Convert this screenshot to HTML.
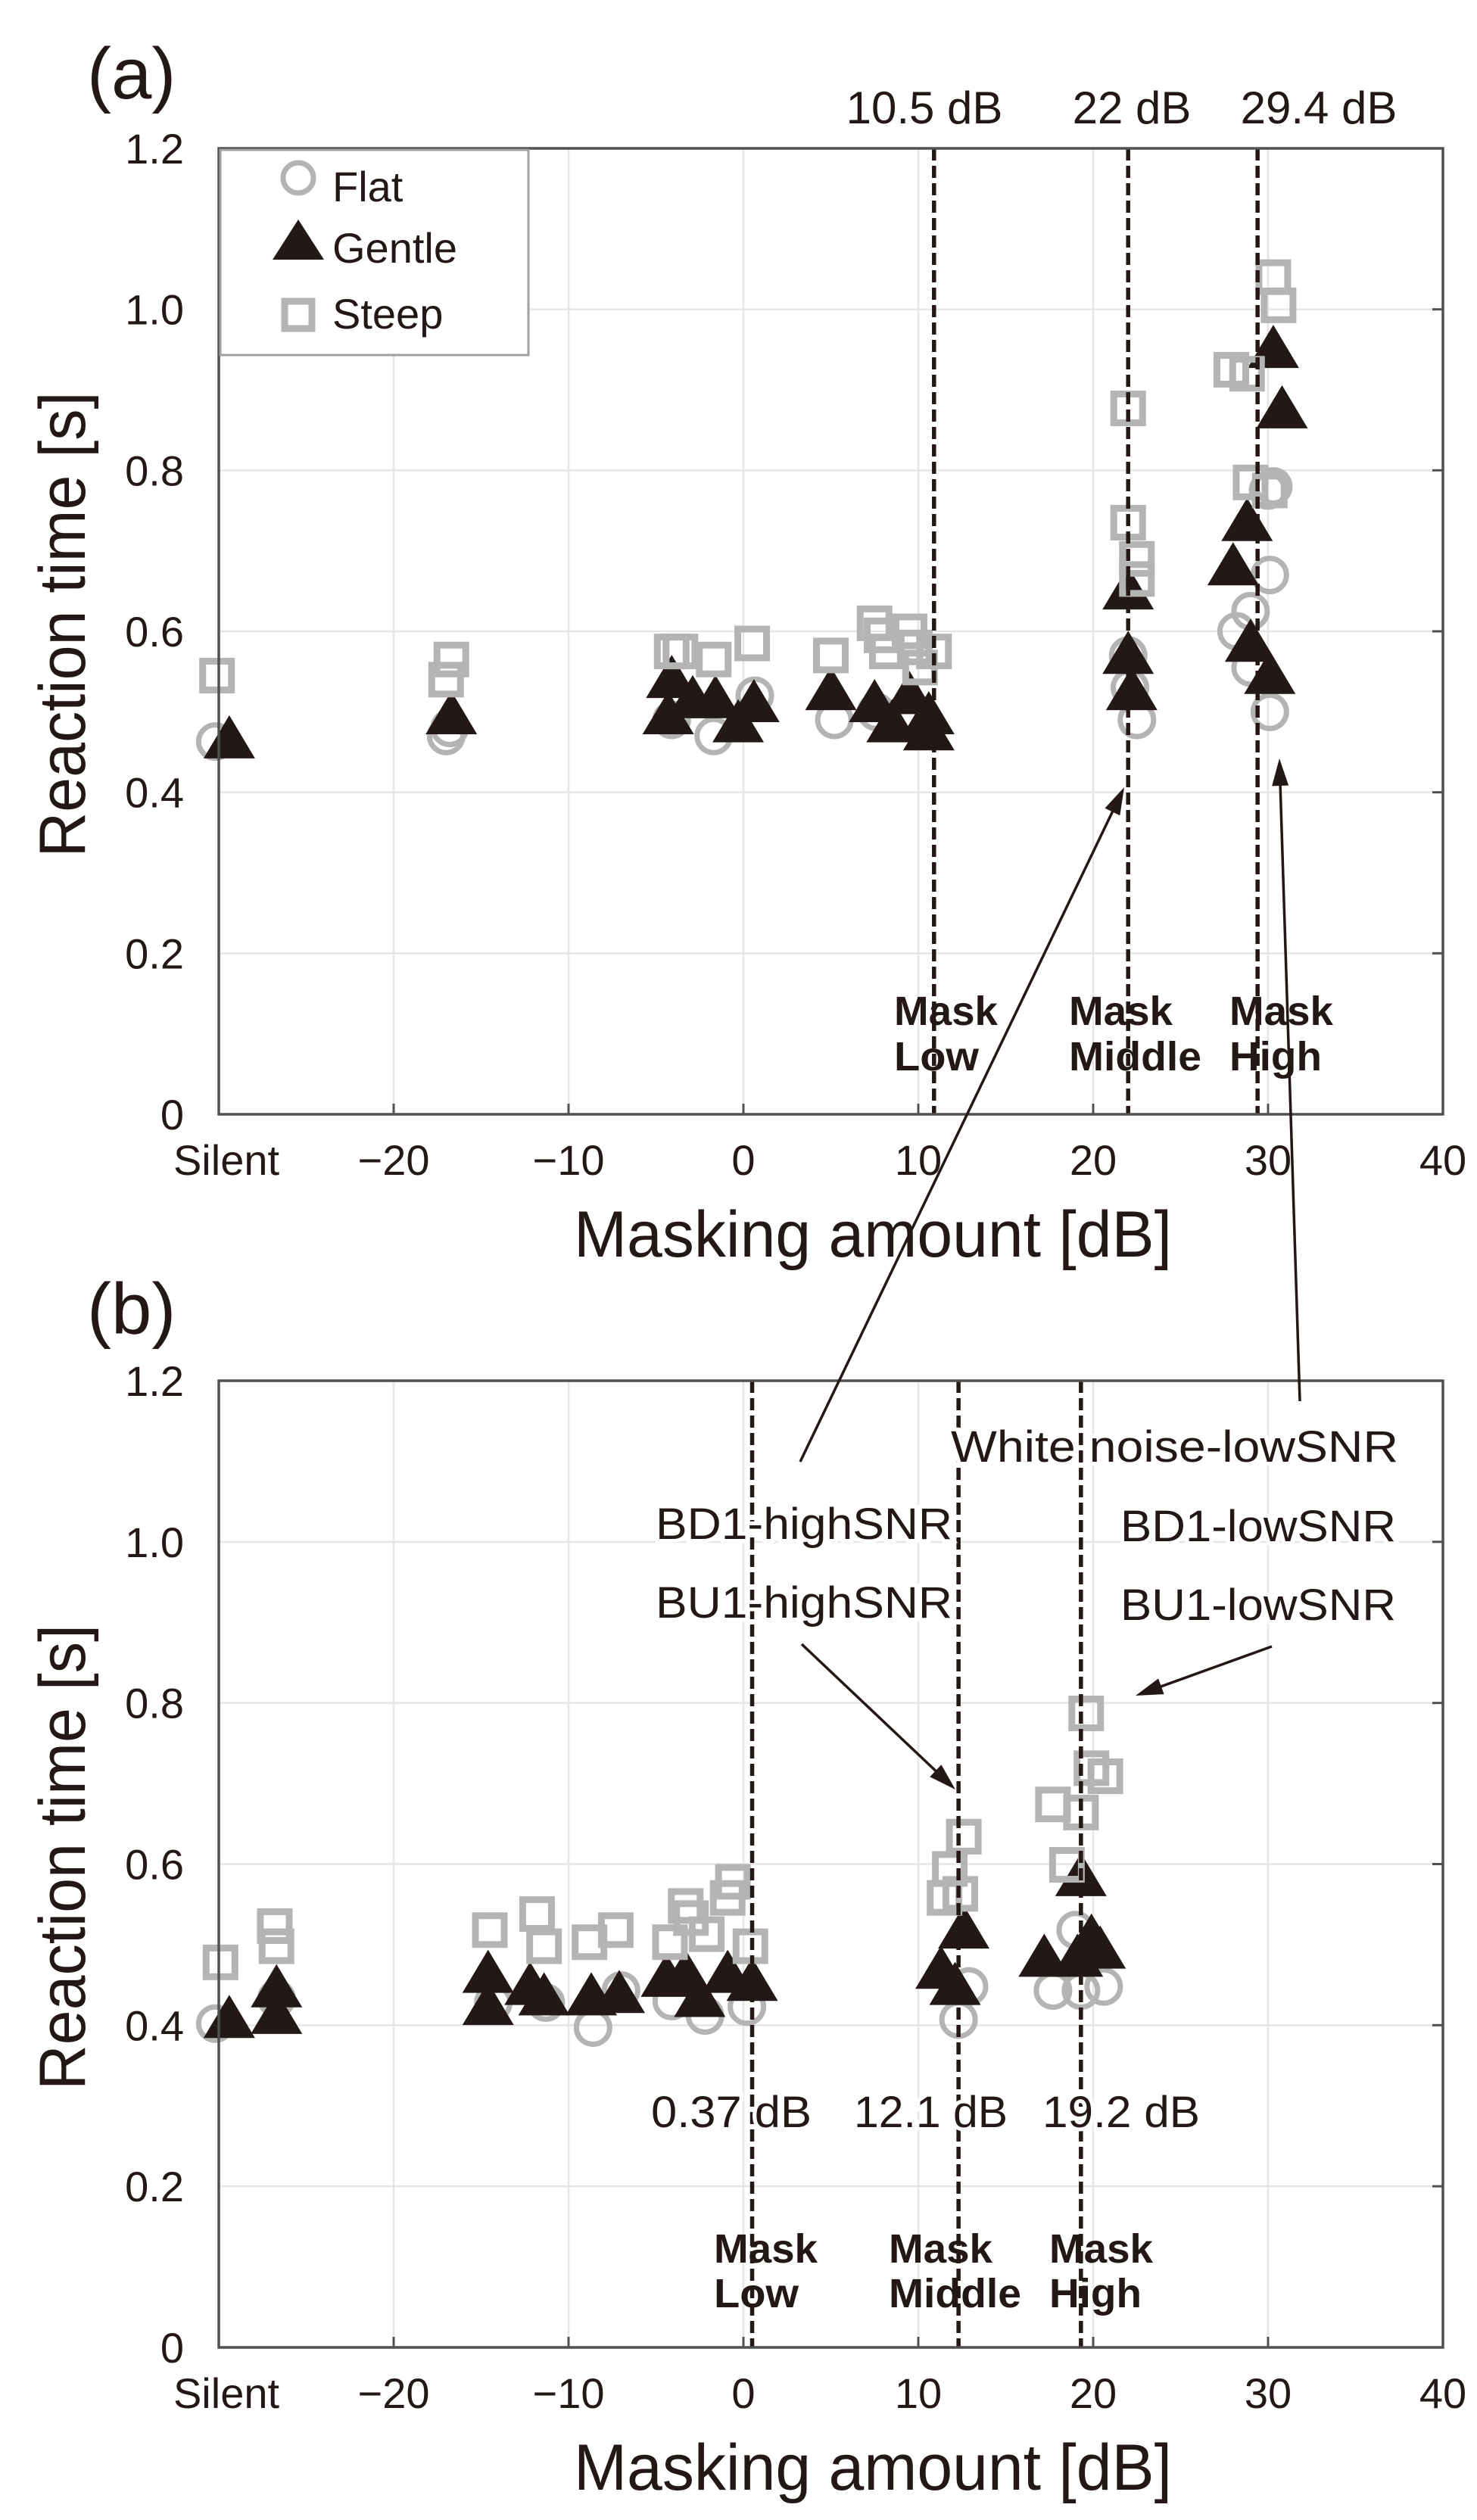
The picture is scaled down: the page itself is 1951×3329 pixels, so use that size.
<!DOCTYPE html>
<html><head><meta charset="utf-8"><style>
html,body{margin:0;padding:0;background:#fff;}
svg{display:block;font-family:"Liberation Sans Narrow","Liberation Sans",sans-serif;}
</style></head><body>
<svg id="fig" width="1951" height="3329" viewBox="0 0 1951 3329" xmlns="http://www.w3.org/2000/svg">
<g id="pa"></g>
<g id="pb"></g>
<g id="ann"></g>
</svg>
<script>
// ---------- data: panel (a) ----------
const aFlatX = [-30.2,-17,-16.8,-4.1,-1.7,0.65,5.2,7.6,22,22.1,22.5,28.2,29,29,30.1,30.1,30.3,30];
const aFlatY = [0.463,0.47,0.48,0.49,0.47,0.52,0.49,0.5,0.57,0.53,0.49,0.60,0.625,0.555,0.67,0.50,0.78,0.775];
const aGentleX = [-29.4,-16.7,-4.1,-4.3,-2.9,-1.6,-0.3,0.6,5,7.5,8.5,9.5,10.6,10.6,22,22,22.2,28,28.8,29,30.1,30.3,30.8];
const aGentleY = [0.46,0.49,0.535,0.49,0.51,0.51,0.48,0.505,0.52,0.505,0.48,0.515,0.49,0.47,0.645,0.565,0.52,0.675,0.73,0.58,0.54,0.945,0.87];
const aSteepX = [-30.1,-16.7,-17,-4.1,-3.6,-1.7,0.5,5,7.5,7.9,8.2,9.5,9.8,10.9,10.1,22,22,22.5,22.5,27.9,28.8,29,30.1,30.3,30.6];
const aSteepY = [0.545,0.565,0.54,0.575,0.575,0.565,0.585,0.57,0.61,0.595,0.575,0.6,0.58,0.575,0.555,0.877,0.735,0.69,0.665,0.925,0.92,0.785,0.775,1.04,1.005];
const aMaskX = [10.9,22.0,29.4];
const aMaskLabels = ["10.5 dB","22 dB","29.4 dB"];
// ---------- data: panel (b) ----------
const bFlatX = [-30.2,-26.7,-14.3,-11.3,-8.6,-7,-4.1,-2.2,0.2,12.3,12.9,17.7,19,19.3,20.6];
const bFlatY = [0.402,0.433,0.428,0.428,0.397,0.443,0.43,0.412,0.423,0.407,0.448,0.443,0.518,0.443,0.448];
const bGentleX = [-29.4,-26.7,-26.7,-14.6,-14.6,-12.2,-11.4,-8.7,-7.1,-4.4,-3.3,-2.5,-0.9,0.5,11.3,12.1,12.6,17.2,19.1,19.3,19.9,20.4];
const bGentleY = [0.402,0.44,0.407,0.458,0.418,0.443,0.43,0.43,0.433,0.453,0.458,0.428,0.458,0.448,0.463,0.443,0.513,0.478,0.478,0.578,0.503,0.488];
const bSteepX = [-29.9,-26.8,-26.7,-14.5,-11.8,-11.4,-8.8,-7.3,-4.2,-3.3,-3,-2.1,-0.6,-0.9,0.4,11.5,11.8,12.4,12.6,17.7,18.5,19.3,19.6,19.9,20.7];
const bSteepY = [0.478,0.523,0.498,0.518,0.538,0.498,0.503,0.518,0.503,0.548,0.533,0.513,0.578,0.558,0.498,0.558,0.594,0.563,0.634,0.674,0.599,0.664,0.787,0.719,0.709];
const bMaskX = [0.5,12.3,19.3];
const bMaskLabels = ["0.37 dB","12.1 dB","19.2 dB"];
// ---------- ticks ----------
const xTickVals = [-30,-20,-10,0,10,20,30,40];
const xTickLabels = ["Silent","\u221220","\u221210","0","10","20","30","40"];
const yTickVals = [0,0.2,0.4,0.6,0.8,1.0,1.2];
const yTickLabels = ["0","0.2","0.4","0.6","0.8","1.0","1.2"];

const NS="http://www.w3.org/2000/svg";
const INK="#231815", GRAY="#b4b4b4";
function mk(tag, parent, attrs){const e=document.createElementNS(NS,tag);for(const k in attrs)e.setAttribute(k,attrs[k]);parent.appendChild(e);return e;}
function txt(parent, s, attrs){const e=mk('text',parent,attrs);e.textContent=s;return e;}

function panel(g, top, bottom, data){
  const L=289,R=1906;
  const sx=v=>L+(v+30)*(R-L)/70;
  const sy=v=>bottom-v*(bottom-top)/1.2;
  xTickVals.forEach((v,i)=>{ if(i>0&&i<xTickVals.length-1){
    const l=mk('line',g,{x1:sx(v),x2:sx(v),y1:top,y2:bottom,stroke:'#e6e6e6','stroke-width':2.5});
    
    }});
  yTickVals.forEach((v,i)=>{ if(i>0&&i<yTickVals.length-1){
    const l=mk('line',g,{x1:L,x2:R,y1:sy(v),y2:sy(v),stroke:'#e6e6e6','stroke-width':2.5});
    
    }});
  xTickVals.forEach((v,i)=>{
    const t=txt(g,xTickLabels[i],{x:sx(v)+(i===0?10:0),y:bottom+80,'font-size':56,'text-anchor':'middle',fill:INK});
    
    
    const tk=mk('line',g,{x1:sx(v),x2:sx(v),y1:bottom,y2:bottom-14,stroke:'#505050','stroke-width':3});
    
    
  });
  yTickVals.forEach((v,i)=>{
    const t=txt(g,yTickLabels[i],{x:243,y:sy(v)+20,'font-size':56,'text-anchor':'end',fill:INK});
    
    
    const tk=mk('line',g,{x1:R,x2:R-14,y1:sy(v),y2:sy(v),stroke:'#505050','stroke-width':3});
    
    
  });
  data.flatX.forEach((x,i)=>{
    const c=mk('circle',g,{cx:sx(x),cy:sy(data.flatY[i]),r:22,fill:'none',stroke:GRAY,'stroke-width':7});
    
    
  });
  data.gentleX.forEach((x,i)=>{
    const cx=sx(x), cy=sy(data.gentleY[i]);
    const p=mk('polygon',g,{points:`${cx-34},${cy+19} ${cx+34},${cy+19} ${cx},${cy-38}`,fill:INK});
    
    
  });
  data.steepX.forEach((x,i)=>{
    const r=mk('rect',g,{x:sx(x)-19,y:sy(data.steepY[i])-19,width:38,height:38,fill:'none',stroke:GRAY,'stroke-width':9});
    
    
  });
  data.maskX.forEach((x)=>{
    const l=mk('line',g,{x1:sx(x),x2:sx(x),y1:top,y2:bottom,stroke:INK,'stroke-width':5.5,'stroke-dasharray':'16 7'});
    
    
  });
  const b=mk('rect',g,{x:L,y:top,width:R-L,height:bottom-top,fill:'none',stroke:'#505050','stroke-width':3.5});
  
  
  const xt=txt(g,'Masking amount [dB]',{x:1153,y:bottom+188,'font-size':86,'text-anchor':'middle',fill:INK,textLength:790,lengthAdjust:'spacingAndGlyphs',style:'font-family:"Liberation Sans",sans-serif'});
  
  
  const cy=(top+bottom)/2-9;
  const yt=txt(g,'Reaction time [s]',{x:0,y:0,'font-size':86,'text-anchor':'middle',fill:INK,transform:`translate(112,${cy}) rotate(-90)`,textLength:615,lengthAdjust:'spacingAndGlyphs',style:'font-family:"Liberation Sans",sans-serif'});
  
  
  return {sx,sy};
}

const ga=document.getElementById('pa'), gb=document.getElementById('pb'), gn=document.getElementById('ann');
panel(ga,196,1472,{flatX:aFlatX,flatY:aFlatY,gentleX:aGentleX,gentleY:aGentleY,steepX:aSteepX,steepY:aSteepY,maskX:aMaskX});
panel(gb,1824,3101,{flatX:bFlatX,flatY:bFlatY,gentleX:bGentleX,gentleY:bGentleY,steepX:bSteepX,steepY:bSteepY,maskX:bMaskX});

function label(g,s,x,y,size,name,opts){
  const t=txt(g,s,Object.assign({x:x,y:y,'font-size':size,fill:INK},opts||{}));
  
  
  return t;
}
label(ga,'(a)',115,130,96,'panel-a-letter',{style:'font-family:"Liberation Sans",sans-serif'});
label(gb,'(b)',115,1762,96,'panel-b-letter',{style:'font-family:"Liberation Sans",sans-serif'});
[1221,1495,1742].forEach((cx,i)=>{
  label(ga,aMaskLabels[i],cx,163,60,'mask-db-label',{'text-anchor':'middle'});
});
const lg=mk('g',ga,{});


const lb=mk('rect',lg,{x:291,y:198,width:407,height:271,fill:'#fff',stroke:'#a0a0a0','stroke-width':3});


const lc=mk('circle',lg,{cx:394,cy:235,r:20,fill:'none',stroke:GRAY,'stroke-width':7});


const lt=mk('polygon',lg,{points:'360,343 428,343 394,290',fill:INK});


const ls=mk('rect',lg,{x:376,y:398,width:36,height:36,fill:'none',stroke:GRAY,'stroke-width':9});


label(lg,'Flat',439,266,56,'legend-entry-flat',{style:'font-family:"Liberation Sans",sans-serif'});
label(lg,'Gentle',439,347,56,'legend-entry-gentle',{style:'font-family:"Liberation Sans",sans-serif'});
label(lg,'Steep',439,434,56,'legend-entry-steep',{style:'font-family:"Liberation Sans",sans-serif'});
function maskLabel(g,x,y1,y2,w2,second){
  label(g,'Mask',x,y1,54,'mask-label',{'font-weight':'bold',textLength:137,lengthAdjust:'spacingAndGlyphs',style:'font-family:"Liberation Sans",sans-serif'});
  label(g,second,x,y2,54,'mask-label',{'font-weight':'bold',textLength:w2,lengthAdjust:'spacingAndGlyphs',style:'font-family:"Liberation Sans",sans-serif'});
}
maskLabel(ga,1181,1354,1414,112,'Low');
maskLabel(ga,1412,1354,1414,175,'Middle');
maskLabel(ga,1624,1354,1414,122,'High');
maskLabel(gb,943,2989,3048,112,'Low');
maskLabel(gb,1174,2989,3048,175,'Middle');
maskLabel(gb,1386,2989,3048,122,'High');
const halo={stroke:'#fff','stroke-width':10,'paint-order':'stroke',style:'font-family:"Liberation Sans",sans-serif'};
label(gb,'White noise-lowSNR',1256,1931,58,'annotation-white-noise-lowsnr',Object.assign({textLength:591,lengthAdjust:'spacingAndGlyphs'},halo));
label(gb,'BD1-highSNR',866,2033,58,'annotation-bd1-highsnr',Object.assign({textLength:392,lengthAdjust:'spacingAndGlyphs'},halo));
label(gb,'BU1-highSNR',866,2137,58,'annotation-bu1-highsnr',Object.assign({textLength:392,lengthAdjust:'spacingAndGlyphs'},halo));
label(gb,'BD1-lowSNR',1480,2036,58,'annotation-bd1-lowsnr',Object.assign({textLength:364,lengthAdjust:'spacingAndGlyphs'},halo));
label(gb,'BU1-lowSNR',1480,2140,58,'annotation-bu1-lowsnr',Object.assign({textLength:364,lengthAdjust:'spacingAndGlyphs'},halo));
[[860,212],[1128,203],[1377,208]].forEach((p,i)=>{
  label(gb,bMaskLabels[i],p[0],2810,58,'mask-db-label',Object.assign({textLength:p[1],lengthAdjust:'spacingAndGlyphs'},halo));
});
function arrow(x1,y1,x2,y2,name){
  const dx=x2-x1, dy=y2-y1, len=Math.hypot(dx,dy), ux=dx/len, uy=dy/len;
  const l=mk('line',gn,{x1:x1,y1:y1,x2:x2-ux*20,y2:y2-uy*20,stroke:INK,'stroke-width':3.5});
  
  
  const h=mk('polygon',gn,{points:`${x2},${y2} ${x2-ux*36-uy*11},${y2-uy*36+ux*11} ${x2-ux*36+uy*11},${y2-uy*36-ux*11}`,fill:INK});
  
  
}
arrow(1057,1931,1485,1040,'arrow-highsnr-to-mask-middle');
arrow(1717,1851,1690,1002,'arrow-lowsnr-to-mask-high');
arrow(1059,2172,1262,2364,'arrow-to-mask-middle-b');
arrow(1680,2175,1500,2240,'arrow-to-mask-high-b');
</script>
</body></html>
